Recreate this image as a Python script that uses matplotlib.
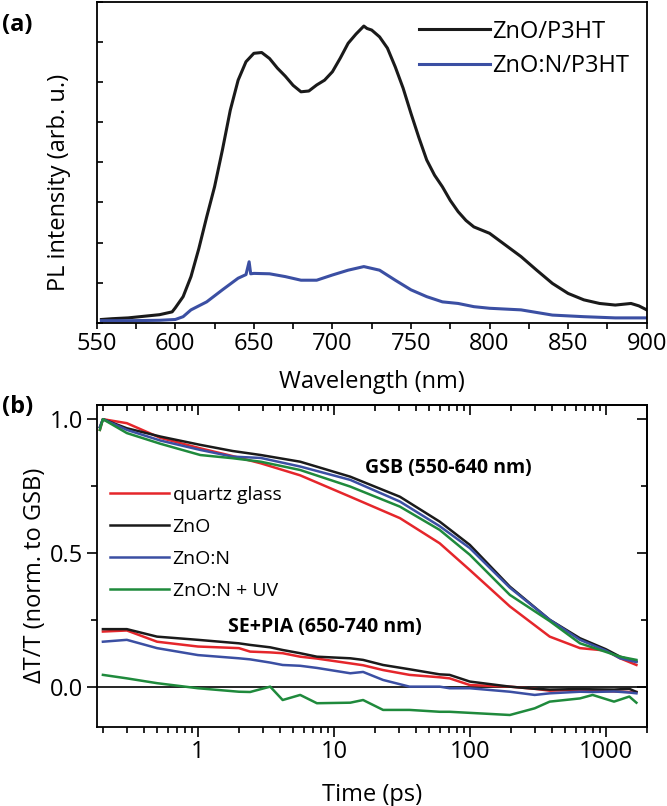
import matplotlib
matplotlib.use("Agg")
import matplotlib.pyplot as plt
from matplotlib.ticker import MultipleLocator, LogLocator, NullFormatter, FixedLocator, FixedFormatter

plt.rcParams['font.family'] = ['Open Sans', 'DejaVu Sans']

# ---------------- Panel (a) data: PL spectra ----------------
wl_black = [553, 560, 570, 580, 590, 598, 600, 605, 610, 615, 620, 625, 630, 635, 640, 645, 650, 655,
            660, 665, 670, 675, 680, 685, 690, 695, 700, 705, 710, 715, 718, 720, 722, 725, 730, 735,
            740, 745, 750, 755, 760, 765, 770, 775, 780, 785, 790, 800, 810, 820, 830, 840, 850, 860,
            870, 880, 890, 895, 900]
pl_black = [0.08, 0.10, 0.12, 0.16, 0.20, 0.27, 0.37, 0.65, 1.15, 1.85, 2.64, 3.39, 4.31, 5.30, 6.05, 6.51,
            6.72, 6.74, 6.59, 6.35, 6.15, 5.92, 5.76, 5.78, 5.93, 6.05, 6.26, 6.60, 6.97, 7.20, 7.32, 7.40,
            7.34, 7.30, 7.13, 6.85, 6.38, 5.85, 5.22, 4.62, 4.06, 3.68, 3.39, 3.05, 2.77, 2.55, 2.39,
            2.23, 1.94, 1.65, 1.31, 0.98, 0.73, 0.57, 0.48, 0.44, 0.48, 0.42, 0.32]

wl_blue = [553, 570, 590, 600, 605, 610, 620, 630, 640, 645, 647, 648, 650, 660, 670, 680, 690, 700,
           710, 720, 730, 740, 750, 760, 770, 780, 790, 800, 820, 840, 860, 880, 900]
pl_blue = [0.05, 0.05, 0.06, 0.08, 0.15, 0.32, 0.52, 0.82, 1.11, 1.20, 1.52, 1.22, 1.23, 1.22, 1.15,
           1.06, 1.06, 1.19, 1.31, 1.40, 1.31, 1.06, 0.82, 0.65, 0.52, 0.48, 0.40, 0.36, 0.32, 0.19,
           0.15, 0.12, 0.12]

series_a = ["ZnO/P3HT", "ZnO:N/P3HT"]
colors_a = ["#1a1a1a", "#3b4fa3"]

# ---------------- Panel (b) data: transient transmission ----------------
t_gsb = [0.19, 0.2, 0.3, 0.53, 1.04, 1.8, 2.9, 5.65, 13.2, 30.6, 60, 100, 197, 387, 646, 1000, 1275, 1680]
gsb_quartz = [0.96, 1.00, 0.985, 0.93, 0.891, 0.862, 0.835, 0.79, 0.71, 0.63, 0.536, 0.436, 0.30, 0.187,
              0.144, 0.135, 0.106, 0.081]
gsb_zno = [0.97, 1.00, 0.966, 0.935, 0.904, 0.881, 0.866, 0.841, 0.785, 0.71, 0.617, 0.53, 0.374, 0.25,
           0.181, 0.14, 0.112, 0.094]
gsb_znon = [0.97, 1.00, 0.96, 0.92, 0.885, 0.86, 0.855, 0.823, 0.773, 0.692, 0.60, 0.518, 0.37, 0.25,
            0.175, 0.135, 0.106, 0.092]
gsb_znon_uv = [0.96, 1.00, 0.948, 0.908, 0.866, 0.854, 0.841, 0.81, 0.748, 0.673, 0.586, 0.493, 0.343,
               0.245, 0.162, 0.13, 0.112, 0.10]

t_se = [0.2, 0.3, 0.5, 1.0, 2.0, 2.42, 3.4, 4.2, 5.65, 7.5, 13.2, 16.4, 23, 36, 60, 71, 100, 197, 300,
        387, 646, 800, 1150, 1490, 1680]
se_quartz = [0.206, 0.21, 0.168, 0.15, 0.144, 0.131, 0.128, 0.125, 0.112, 0.105, 0.087, 0.08, 0.062,
             0.044, 0.035, 0.031, 0.006, 0.0, -0.008, -0.015, -0.012, -0.015, -0.018, -0.02, -0.02]
se_zno = [0.215, 0.215, 0.187, 0.175, 0.162, 0.156, 0.147, 0.137, 0.125, 0.112, 0.106, 0.1, 0.081,
          0.065, 0.046, 0.044, 0.019, 0.0, -0.008, -0.011, -0.009, -0.01, -0.011, -0.008, -0.02]
se_znon = [0.168, 0.175, 0.144, 0.118, 0.106, 0.102, 0.09, 0.081, 0.078, 0.07, 0.05, 0.055, 0.025, 0.0,
           0.0, -0.006, -0.006, -0.019, -0.031, -0.025, -0.019, -0.02, -0.018, -0.022, -0.025]
se_znon_uv = [0.044, 0.031, 0.013, -0.006, -0.019, -0.02, 0.0, -0.05, -0.031, -0.062, -0.06, -0.05,
              -0.087, -0.087, -0.094, -0.094, -0.098, -0.106, -0.081, -0.056, -0.044, -0.031, -0.056,
              -0.037, -0.06]

labels_b = ["quartz glass", "ZnO", "ZnO:N", "ZnO:N + UV"]
colors_b = ["#e5262b", "#1a1a1a", "#3b4fa3", "#1f8a3c"]
major_t = [1, 10, 100, 1000]
major_t_labels = ["1", "10", "100", "1000"]
major_y = [0.0, 0.5, 1.0]
major_y_labels = ["0.0", "0.5", "1.0"]

W, H = 667, 806
fig = plt.figure(figsize=(W / 100, H / 100), dpi=100)

def ax_rect(l, t, r, b):
    return [l / W, 1 - b / H, (r - l) / W, (b - t) / H]

FS = 17

# ---------------- Panel (a) ----------------
ax1 = fig.add_axes(ax_rect(96.7, 2, 646.7, 322.7))
ax1.plot(wl_black, pl_black, color=colors_a[0], lw=2.2, label=series_a[0])
ax1.plot(wl_blue, pl_blue, color=colors_a[1], lw=2.2, label=series_a[1])
ax1.set_xlim(550, 900)
ax1.set_ylim(0, 8)
ax1.xaxis.set_major_locator(MultipleLocator(50))
ax1.xaxis.set_minor_locator(MultipleLocator(25))
ax1.yaxis.set_major_locator(MultipleLocator(1))
ax1.set_yticklabels([])
ax1.tick_params(axis='x', which='major', direction='out', length=4.5, width=1.2, labelsize=FS, pad=2)
ax1.tick_params(axis='x', which='minor', direction='out', length=4, width=1.2)
ax1.tick_params(axis='y', which='major', direction='in', length=4.5, width=1.2)
for s in ax1.spines.values():
    s.set_linewidth(1.3)
ax1.set_xlabel("Wavelength (nm)", fontsize=FS)
ax1.xaxis.set_label_coords(0.5, -0.147)
ax1.set_ylabel("PL intensity (arb. u.)", fontsize=FS, va='center')
ax1.yaxis.set_label_coords(-0.068, 0.436)
ax1.legend(loc='upper right', bbox_to_anchor=(1.0, 1.0), frameon=False, fontsize=FS,
           handlelength=3.0, handletextpad=0.1, labelspacing=0.45, borderaxespad=0.35)
fig.text(2 / W, 1 - 25 / H, "(a)", fontsize=FS, fontweight='bold', ha='left', va='center')

# ---------------- Panel (b) ----------------
ax2 = fig.add_axes(ax_rect(96.7, 405, 646.7, 727.3))
ax2.axhline(0, color='black', lw=1.2, zorder=1)
gsb = [gsb_quartz, gsb_zno, gsb_znon, gsb_znon_uv]
se = [se_quartz, se_zno, se_znon, se_znon_uv]
for lab, c, g, s_ in zip(labels_b, colors_b, gsb, se):
    ax2.plot(t_gsb, g, color=c, lw=1.8, label=lab, zorder=2)
    ax2.plot(t_se, s_, color=c, lw=1.8, zorder=2)
ax2.set_xscale('log')
ax2.set_xlim(0.18, 2000)
ax2.set_ylim(-0.152, 1.053)
ax2.xaxis.set_major_locator(FixedLocator(major_t))
ax2.xaxis.set_major_formatter(FixedFormatter(major_t_labels))
ax2.xaxis.set_minor_locator(LogLocator(base=10, subs=range(2, 10), numticks=20))
ax2.xaxis.set_minor_formatter(NullFormatter())
ax2.yaxis.set_major_locator(FixedLocator(major_y))
ax2.yaxis.set_major_formatter(FixedFormatter(major_y_labels))
ax2.yaxis.set_minor_locator(FixedLocator([0.25, 0.75]))
ax2.tick_params(axis='both', which='major', direction='out', length=7.5, width=1.2, labelsize=FS, pad=2)
ax2.tick_params(axis='both', which='minor', direction='out', length=4, width=1.2)
for s in ax2.spines.values():
    s.set_linewidth(1.3)

# inward ticks on top and right
top = ax2.secondary_xaxis('top')
top.xaxis.set_major_locator(FixedLocator(major_t))
top.xaxis.set_minor_locator(LogLocator(base=10, subs=range(2, 10), numticks=20))
top.tick_params(axis='x', which='major', direction='in', length=7.5, width=1.2)
top.tick_params(axis='x', which='minor', direction='in', length=4, width=1.2)
top.set_xticklabels([])
top.xaxis.set_minor_formatter(NullFormatter())
right = ax2.secondary_yaxis('right')
right.yaxis.set_major_locator(FixedLocator(major_y))
right.yaxis.set_minor_locator(FixedLocator([0.25, 0.75]))
right.tick_params(axis='y', which='major', direction='in', length=7.5, width=1.2)
right.tick_params(axis='y', which='minor', direction='in', length=4.5, width=1.2)
right.set_yticklabels([])
for sp in list(top.spines.values()) + list(right.spines.values()):
    sp.set_linewidth(1.3)

ax2.set_xlabel("Time (ps)", fontsize=FS)
ax2.xaxis.set_label_coords(0.5, -0.173)
ax2.set_ylabel("ΔT/T (norm. to GSB)", fontsize=FS, va='center')
ax2.yaxis.set_label_coords(-0.112, 0.471)
ax2.legend(loc='upper left', bbox_to_anchor=(0.0, 0.79), frameon=False, fontsize=14,
           handlelength=3.0, handletextpad=0.2, labelspacing=0.71, borderaxespad=0.3)
ax2.text(69, 0.818, "GSB (550-640 nm)", fontsize=14, fontweight='bold', ha='center', va='center')
ax2.text(8.6, 0.223, "SE+PIA (650-740 nm)", fontsize=14, fontweight='bold', ha='center', va='center')
fig.text(2 / W, 1 - 407 / H, "(b)", fontsize=FS, fontweight='bold', ha='left', va='center')

fig.savefig("out.png", dpi=100)
